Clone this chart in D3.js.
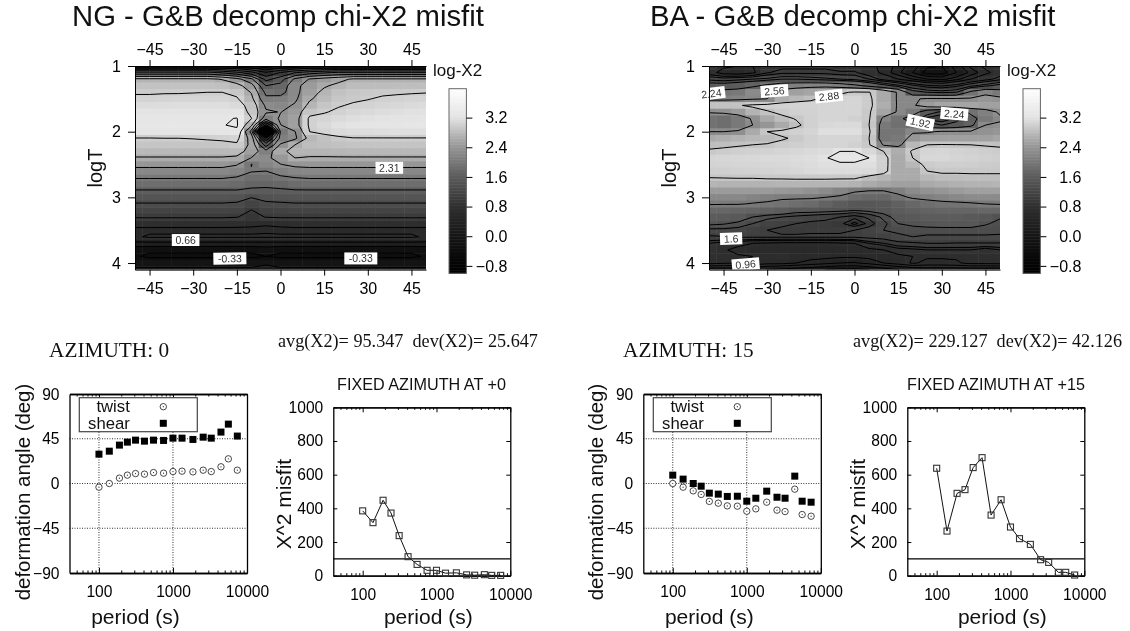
<!DOCTYPE html>
<html>
<head>
<meta charset="utf-8">
<script src="https://cdn.jsdelivr.net/npm/d3@7"></script>
<style>
  html, body { margin: 0; background: #fff; }
  svg { display: block; font-family: "Liberation Sans", Arial, sans-serif; fill: #111; filter: blur(.35px); }
  .serif { font-family: "Liberation Serif", serif; }
</style>
</head>
<body>
<svg id="chart" width="1130" height="631"></svg>
<script>
const azimuths = [-50, -45, -40, -35, -30, -25, -20, -15, -10, -5, 0, 5, 10, 15, 20, 25, 30, 35, 40, 45, 50];
const logTs = [1.0, 1.1, 1.2, 1.3, 1.4, 1.5, 1.6, 1.7, 1.8, 1.9, 2.0, 2.1, 2.2, 2.3, 2.4, 2.5, 2.6, 2.7, 2.8, 2.9, 3.0, 3.1, 3.2, 3.3, 3.4, 3.5, 3.6, 3.7, 3.8, 3.9, 4.0, 4.1];

// one row per logT, one column per azimuth
const ngGrid = [
  [.2, .2, .2, .2, .2, .2, .2, .1, 0, -.2, 0, .1, .2, .2, .2, .2, .2, .2, .2, .2, .2],
  [1.75, 1.75, 1.75, 1.75, 1.75, 1.75, 1.6, 1.4, 1.1, .7, 1, 1.3, 1.5, 1.6, 1.7, 1.7, 1.7, 1.7, 1.7, 1.7, 1.7],
  [2.7, 2.7, 2.7, 2.7, 2.7, 2.7, 2.62, 2.42, 2.05, 1.2, 1.5, 2.05, 2.33, 2.45, 2.55, 2.68, 2.68, 2.68, 2.68, 2.68, 2.68],
  [2.85, 2.85, 2.85, 2.85, 2.85, 2.85, 2.83, 2.75, 2.45, 1.65, 1.75, 2.22, 2.45, 2.6, 2.72, 2.8, 2.8, 2.8, 2.81, 2.81, 2.82],
  [2.94, 2.94, 2.95, 2.95, 2.96, 2.97, 2.97, 2.9, 2.62, 1.9, 1.85, 2.22, 2.5, 2.72, 2.85, 2.9, 2.92, 2.93, 2.94, 2.95, 2.96],
  [3.03, 3.03, 3.04, 3.05, 3.05, 3.05, 3.05, 3, 2.72, 2.05, 2.1, 2.25, 2.6, 2.78, 2.9, 2.93, 2.96, 3, 3.02, 3.04, 3.05],
  [3.12, 3.12, 3.13, 3.14, 3.14, 3.14, 3.14, 3.1, 2.85, 2.25, 2.2, 2.35, 2.72, 2.88, 2.95, 3, 3.03, 3.06, 3.08, 3.1, 3.12],
  [3.2, 3.2, 3.2, 3.21, 3.21, 3.21, 3.21, 3.2, 2.88, 2.35, 2.3, 2.45, 2.88, 2.95, 3.02, 3.07, 3.1, 3.13, 3.15, 3.17, 3.18],
  [3.27, 3.27, 3.27, 3.27, 3.27, 3.27, 3.27, 3.31, 2.98, 2.1, 2.35, 2.5, 3.02, 3.05, 3.1, 3.14, 3.17, 3.19, 3.2, 3.21, 3.22],
  [3.29, 3.29, 3.29, 3.29, 3.29, 3.29, 3.29, 3.33, 2.7, .9, 2.3, 2.5, 3.02, 3.1, 3.17, 3.2, 3.22, 3.24, 3.24, 3.25, 3.25],
  [3.22, 3.22, 3.22, 3.22, 3.22, 3.22, 3.22, 3.25, 2.2, -2.5, 2, 2.3, 2.97, 3.05, 3.1, 3.12, 3.13, 3.14, 3.15, 3.15, 3.15],
  [2.96, 2.96, 2.97, 2.97, 2.98, 3, 3.02, 3.05, 2.5, .7, 2.1, 2.25, 2.75, 2.85, 2.92, 2.96, 2.96, 2.96, 2.96, 2.96, 2.96],
  [2.88, 2.88, 2.88, 2.88, 2.88, 2.88, 2.89, 2.93, 2.55, 1.5, 2.35, 2.64, 2.8, 2.82, 2.85, 2.87, 2.87, 2.87, 2.87, 2.87, 2.87],
  [2.76, 2.76, 2.76, 2.76, 2.76, 2.76, 2.76, 2.78, 2.5, 2.1, 2.58, 2.72, 2.72, 2.72, 2.74, 2.75, 2.75, 2.75, 2.75, 2.75, 2.75],
  [2.62, 2.62, 2.62, 2.62, 2.62, 2.62, 2.62, 2.58, 2.3, 2.25, 2.42, 2.64, 2.62, 2.62, 2.62, 2.62, 2.62, 2.62, 2.62, 2.62, 2.62],
  [2.4, 2.4, 2.4, 2.4, 2.4, 2.4, 2.4, 2.33, 1.97, 2.18, 2.3, 2.38, 2.4, 2.4, 2.4, 2.4, 2.4, 2.4, 2.4, 2.4, 2.4],
  [2.2, 2.2, 2.2, 2.2, 2.2, 2.2, 2.2, 2.15, 2, 1.98, 2.1, 2.18, 2.2, 2.2, 2.2, 2.2, 2.2, 2.2, 2.2, 2.2, 2.2],
  [2, 2, 2, 2, 2, 2, 2, 1.96, 1.85, 1.85, 1.93, 1.98, 2, 2, 2, 2, 2, 2, 2, 2, 2],
  [1.85, 1.85, 1.85, 1.85, 1.85, 1.85, 1.85, 1.8, 1.72, 1.72, 1.75, 1.82, 1.85, 1.85, 1.85, 1.85, 1.85, 1.85, 1.85, 1.85, 1.85],
  [1.62, 1.62, 1.62, 1.62, 1.62, 1.62, 1.62, 1.63, 1.6, 1.58, 1.6, 1.62, 1.62, 1.62, 1.62, 1.62, 1.62, 1.62, 1.62, 1.62, 1.62],
  [1.45, 1.45, 1.45, 1.45, 1.45, 1.45, 1.45, 1.44, 1.33, 1.42, 1.44, 1.45, 1.45, 1.45, 1.45, 1.45, 1.45, 1.45, 1.45, 1.45, 1.45],
  [1.3, 1.3, 1.3, 1.3, 1.3, 1.3, 1.3, 1.28, 1.15, 1.26, 1.28, 1.3, 1.3, 1.3, 1.3, 1.3, 1.3, 1.3, 1.3, 1.3, 1.3],
  [1.16, 1.16, 1.16, 1.16, 1.16, 1.16, 1.16, 1.14, .98, 1.1, 1.13, 1.16, 1.16, 1.16, 1.16, 1.16, 1.16, 1.16, 1.16, 1.16, 1.16],
  [1.02, 1.02, 1.02, 1.02, 1.02, 1.02, 1.02, 1, .9, 1, 1.02, 1.02, 1.02, 1.02, 1.02, 1.02, 1.02, 1.02, 1.02, 1.02, 1.02],
  [.75, .75, .75, .75, .75, .75, .75, .74, .72, .68, .72, .75, .75, .75, .75, .75, .75, .75, .75, .75, .75],
  [.6, .6, .6, .6, .6, .6, .6, .6, .6, .62, .6, .6, .6, .6, .6, .6, .6, .6, .6, .6, .6],
  [.62, .7, .7, .7, .7, .7, .7, .7, .7, .7, .7, .7, .7, .7, .7, .7, .7, .7, .7, .7, .62],
  [.25, .25, .25, .25, .25, .25, .25, .25, .25, .25, .25, .25, .25, .25, .25, .25, .25, .25, .25, .25, .25],
  [-.25, -.28, -.28, -.28, -.28, -.28, -.28, -.28, -.28, -.2, -.28, -.28, -.28, -.28, -.28, -.28, -.28, -.28, -.28, -.28, -.25],
  [-.3, -.38, -.38, -.38, -.38, -.38, -.38, -.38, -.38, -.33, -.38, -.38, -.38, -.38, -.38, -.38, -.38, -.38, -.38, -.38, -.3],
  [-.1, -.1, -.1, -.1, -.1, -.1, -.1, -.1, -.1, -.05, -.1, -.1, -.1, -.1, -.1, -.1, -.1, -.1, -.1, -.1, -.1],
  [.05, .05, .05, .05, .05, .05, .05, .05, .05, .12, .05, .05, .05, .05, .05, .05, .05, .05, .05, .05, .05]
];
const baGrid = [
  [.9, .75, .7, .7, .8, .85, .85, .85, .85, .8, .8, .75, .65, .5, .3, .05, 0, .3, .6, .75, .85],
  [.8, .6, .55, .65, .9, 1, 1, 1, 1, .95, .95, .8, .65, .45, .2, -.1, -.1, .2, .45, .65, .8],
  [1.2, 1.15, 1.2, 1.25, 1.3, 1.4, 1.4, 1.35, 1.3, 1.25, 1.2, 1.05, .85, .7, .55, .4, .35, .5, .7, .85, 1],
  [1.55, 1.55, 1.6, 1.7, 1.9, 2.05, 2.1, 2.15, 2.15, 2.05, 1.9, 1.7, 1.5, 1.3, 1.1, .95, .9, 1, 1.2, 1.35, 1.5],
  [1.9, 1.95, 2, 2.25, 2.1, 2.4, 2.5, 2.55, 2.65, 2.82, 2.92, 2.9, 2.6, 2.2, 1.5, 1.4, 1.35, 1.4, 1.9, 2.15, 2],
  [2.1, 2.1, 2.15, 2.2, 2.25, 2.65, 2.75, 2.82, 2.95, 3.03, 3.05, 2.95, 2.6, 2.2, 2.2, 2.3, 2.3, 2.3, 2.3, 2.4, 2.35],
  [2.85, 2.85, 2.85, 2.95, 3, 3.02, 3.03, 3.03, 3.05, 3.05, 3.05, 2.95, 2.65, 2.2, 2.2, 2.45, 2.55, 2.55, 2.55, 2.5, 2.5],
  [2.3, 2.35, 2.45, 2.7, 2.85, 2.95, 3, 3.02, 3.05, 3.05, 3.05, 2.92, 2.55, 2.2, 2, 1.55, 1.35, 1.55, 1.9, 2.1, 2.3],
  [1.9, 1.85, 2, 2.3, 2.6, 2.8, 2.9, 3, 3.05, 3.05, 3, 2.92, 2.15, 1.9, 1.6, 1.2, 1.1, 1.3, 1.65, 2, 2.2],
  [1.9, 1.85, 2, 2.25, 2.4, 2.6, 2.82, 3, 3.08, 3.1, 3.1, 2.88, 2, 1.88, 1.85, 1.55, 1.4, 1.5, 1.7, 2.25, 2.3],
  [2.25, 2.25, 2.3, 2.6, 2.88, 2.95, 3, 3.05, 3.15, 3.15, 3.15, 2.95, 1.95, 1.95, 2.2, 2.2, 2.3, 2.3, 2.3, 2.35, 2.4],
  [2.6, 2.65, 2.7, 2.75, 2.78, 2.85, 2.92, 3, 3.05, 3.05, 3.05, 2.88, 1.95, 2, 2.4, 2.5, 2.5, 2.5, 2.5, 2.5, 2.55],
  [2.8, 2.82, 2.85, 2.88, 2.9, 2.95, 2.98, 3.02, 3.05, 3.05, 3, 2.92, 2.2, 2.1, 2.75, 2.88, 2.9, 2.89, 2.88, 2.86, 2.84],
  [2.92, 2.95, 2.98, 3, 3.02, 3.05, 3.07, 3.1, 3.12, 3.2, 3.2, 3.08, 2.88, 2.65, 2.92, 3.05, 3.06, 3.03, 3, 2.97, 2.95],
  [3.05, 3.06, 3.07, 3.08, 3.1, 3.1, 3.12, 3.14, 3.18, 3.3, 3.3, 3.2, 3, 2.6, 2.88, 3.08, 3.08, 3.05, 3.03, 3, 2.98],
  [3.03, 3.04, 3.05, 3.06, 3.07, 3.08, 3.1, 3.12, 3.15, 3.15, 3.15, 3.15, 3, 2.6, 2.75, 2.95, 2.98, 2.98, 2.97, 2.95, 2.94],
  [2.98, 2.98, 3, 3.02, 3.03, 3.05, 3.07, 3.1, 3.12, 3.12, 3.12, 3.1, 2.98, 2.62, 2.62, 2.88, 2.92, 2.92, 2.92, 2.92, 2.92],
  [2.88, 2.89, 2.9, 2.9, 2.92, 2.92, 2.93, 2.93, 2.93, 2.92, 2.92, 2.8, 2.72, 2.62, 2.6, 2.75, 2.8, 2.8, 2.82, 2.82, 2.82],
  [2.72, 2.7, 2.7, 2.7, 2.7, 2.72, 2.72, 2.72, 2.72, 2.72, 2.7, 2.62, 2.55, 2.5, 2.5, 2.6, 2.65, 2.68, 2.7, 2.7, 2.72],
  [2.45, 2.45, 2.45, 2.45, 2.45, 2.42, 2.4, 2.35, 2.25, 2.15, 2.05, 2, 2, 2.1, 2.25, 2.35, 2.4, 2.45, 2.5, 2.5, 2.5],
  [2.2, 2.2, 2.2, 2.15, 2.1, 2.05, 2.05, 2.05, 2, 1.95, 1.8, 1.75, 1.75, 1.9, 2.05, 2.1, 2.15, 2.2, 2.25, 2.25, 2.25],
  [2.03, 2.02, 2.02, 1.98, 1.95, 1.9, 1.85, 1.8, 1.7, 1.6, 1.5, 1.5, 1.55, 1.65, 1.75, 1.85, 1.9, 1.92, 1.95, 2, 2.02],
  [1.75, 1.75, 1.72, 1.7, 1.65, 1.6, 1.5, 1.5, 1.48, 1.45, 1.4, 1.45, 1.5, 1.6, 1.65, 1.7, 1.72, 1.72, 1.72, 1.75, 1.75],
  [1.6, 1.58, 1.55, 1.4, 1.3, 1.25, 1.2, 1.15, 1.1, 1.05, .95, 1.1, 1.3, 1.5, 1.55, 1.6, 1.6, 1.6, 1.55, 1.5, 1.42],
  [1.45, 1.42, 1.35, 1.25, 1.15, 1.1, 1.05, 1, 1, .95, .82, .95, 1.2, 1.4, 1.45, 1.48, 1.5, 1.5, 1.5, 1.42, 1.35],
  [1.2, 1.2, 1.18, 1.1, 1.05, 1, 1, 1.02, 1.02, 1.02, 1.05, 1.15, 1.25, 1.3, 1.32, 1.33, 1.33, 1.33, 1.33, 1.33, 1.3],
  [1.02, 1.04, 1.08, 1.08, 1.08, 1.08, 1.08, 1.08, 1.08, 1.08, 1.08, 1.1, 1.12, 1.2, 1.25, 1.22, 1.22, 1.22, 1.22, 1.22, 1.22],
  [.85, .8, .75, .7, .68, .66, .66, .66, .66, .68, .7, .85, .92, 1, 1.02, 1.05, 1.05, 1.04, 1.04, 1.04, 1.04],
  [.8, .72, .65, .6, .6, .6, .58, .58, .58, .58, .6, .66, .7, .8, .82, .85, .85, .85, .85, .79, .85],
  [.78, .75, .72, .7, .68, .7, .62, .6, .6, .58, .58, .6, .62, .65, .7, .72, .72, .72, .74, .75, .75],
  [.75, .72, .7, .65, .6, .6, .55, .5, .45, .4, .38, .45, .55, .62, .72, .66, .66, .68, .74, .74, .75],
  [.3, .3, .3, .25, .2, .15, .1, .05, 0, -.05, -.05, 0, .1, .2, .25, .3, .3, .3, .3, .3, .3]
];

const ngLevels = [-2.31, -1.98, -1.65, -1.32, -.99, -.66, -.33, 0, .33, .66, .99, 1.32, 1.65, 1.98, 2.31, 2.64, 2.97, 3.3];
const baLevelsTop = [0, .2, .4, .55, .7, .92, 1.05, 1.25, 1.4, 1.8, 2.25, 2.88, 3.2];
const baLevelsBottom = [0, .2, .4, .55, .7, .85, .92, 1.05, 1.25, 1.4, 2, 2.88, 3.2];

const ngLabels = [
  { text: "2.31", az: 37.4, logT: 2.55, angle: 0 },
  { text: "0.66", az: -32.6, logT: 3.65, angle: 0 },
  { text: "-0.33", az: -17.4, logT: 3.93, angle: -1 },
  { text: "-0.33", az: 27.6, logT: 3.93, angle: 0 }
];
const baLabels = [
  { text: "2.24", az: -49.2, logT: 1.42, angle: -7 },
  { text: "2.56", az: -27.5, logT: 1.38, angle: -4 },
  { text: "2.88", az: -8.8, logT: 1.46, angle: -6 },
  { text: "1.92", az: 22.6, logT: 1.86, angle: 12 },
  { text: "2.24", az: 34.3, logT: 1.73, angle: 5 },
  { text: "1.6", az: -42.4, logT: 3.63, angle: -2 },
  { text: "0.96", az: -37.4, logT: 4.02, angle: -5 }
];

const azimuthTicks = [-45, -30, -15, 0, 15, 30, 45];
const logTTicks = [1, 2, 3, 4];
const colorTicks = [3.2, 2.4, 1.6, 0.8, 0.0, -0.8];
const grayValues = [-1, 0, .8, 1.6, 2.4, 3.2, 4];
const grayLevels = ["#000", "#161616", "#303030", "#5c5c5c", "#969696", "#e4e4e4", "#fff"];

const periods = [100, 138, 189, 242, 312, 412, 546, 746, 1000, 1325, 1860, 2560, 3290, 4450, 5600, 7400];
const shear0 = [29.5, 32.5, 38.6, 41.6, 43.6, 42.6, 43.6, 43.3, 45.6, 45.6, 44.3, 46.6, 45.6, 51.7, 59.7, 47.7];
const twist0 = [-3.7, 0, 5.4, 8.4, 10, 9.4, 11, 10.4, 12, 12.4, 11.7, 13.4, 12, 16.8, 24.8, 13.4];
const shear15 = [8.4, 4.4, 0, -2.7, -9.7, -10.7, -13, -12.8, -17.8, -14.8, -7.7, -13.8, -14.8, 7.4, -17.8, -18.8];
const twist15 = [0, -3.7, -7.4, -11, -18, -19.8, -22.5, -22.8, -27.9, -25.5, -18.8, -26.8, -28.2, -5.7, -31.2, -32.9];
const misfit0 = [385, 315, 448, 372, 238, 113, 67, 32, 32, 15, 17, 5, 3, 6, 2, 2];
const misfit15 = [638, 265, 489, 511, 642, 701, 360, 451, 289, 220, 186, 95, 79, 20, 20, 4];
const misfitLimit = 100;

const periodTicks = [100, 1000, 10000];
const periodMinorTicks = [50, 60, 70, 80, 90, 200, 300, 400, 500, 600, 700, 800, 900, 2000, 3000, 4000, 5000, 6000, 7000, 8000, 9000];
const angleTicks = [-90, -45, 0, 45, 90];
const misfitTicks = [0, 200, 400, 600, 800, 1000];

const svg = d3.select("#chart");
const gray = d3.scaleLinear().domain(grayValues).range(grayLevels).clamp(true);

function text(parent, x, y, str, size, anchor, rotate) {
  const t = parent.append("text")
    .attr("x", x).attr("y", y)
    .attr("font-size", size)
    .attr("text-anchor", anchor || "start")
    .text(str);
  if (rotate) t.attr("transform", `rotate(${rotate},${x},${y})`);
  return t;
}

function drawHeatmap(id, grid, left, title, titleX, levelSets, labels) {
  const x = d3.scaleLinear().domain([-50, 50]).range([left, left + 291]);
  const y = d3.scaleLinear().domain([1, 4.1]).range([66, 269.6]);
  const g = svg.append("g");

  text(g, titleX, 26, title, 29.3);

  g.append("clipPath").attr("id", id).append("rect")
    .attr("x", x(-50)).attr("y", y(1))
    .attr("width", x(50) - x(-50)).attr("height", y(4.1) - y(1));

  const plot = g.append("g").attr("clip-path", `url(#${id})`);
  const cellW = x(5) - x(0), cellH = y(1.1) - y(1);
  logTs.forEach((t, i) => {
    plot.selectAll(null)
      .data(grid[i])
      .enter()
      .append("rect")
      .attr("x", (d, j) => x(azimuths[j]) - cellW / 2)
      .attr("y", y(t) - cellH / 2)
      .attr("width", cellW + .5)
      .attr("height", cellH + .5)
      .attr("fill", d => gray(d));
  });

  // d3.contours puts node i at i + 0.5
  const contours = d3.contours().size([azimuths.length, logTs.length]);
  const flat = grid.flat();
  const path = d3.geoPath(d3.geoTransform({
    point(c, r) {
      this.stream.point(x(-50 + (c - .5) * 5), y(1 + (r - .5) * .1));
    }
  }));
  levelSets.forEach((set, k) => {
    g.append("clipPath").attr("id", `${id}-${k}`).append("rect")
      .attr("x", x(-50)).attr("width", x(50) - x(-50))
      .attr("y", y(set.from)).attr("height", y(set.to) - y(set.from));
    plot.append("g").attr("clip-path", `url(#${id}-${k})`)
      .selectAll("path")
      .data(set.levels.map(l => contours.contour(flat, l)))
      .enter()
      .append("path")
      .attr("d", path)
      .attr("fill", "none")
      .attr("stroke", "#000")
      .attr("stroke-width", 1);
  });

  const label = g.selectAll(".label")
    .data(labels)
    .enter()
    .append("g")
    .attr("class", "label")
    .attr("transform", d => `translate(${x(d.az)},${y(d.logT)}) rotate(${d.angle})`);
  label.append("rect")
    .attr("x", d => -(d.text.length * 5.4 + 6) / 2).attr("y", -6)
    .attr("width", d => d.text.length * 5.4 + 6).attr("height", 12)
    .attr("fill", "#fff");
  label.append("text")
    .attr("y", 3.8)
    .attr("text-anchor", "middle")
    .attr("font-size", 10.5)
    .attr("fill", "#333")
    .text(d => d.text);

  const axisFont = ax => ax.attr("font-size", 16).attr("font-family", "Liberation Sans");
  g.append("g").attr("transform", `translate(0,${y(4.1)})`)
    .call(d3.axisBottom(x).tickValues(azimuthTicks).tickSize(6).tickSizeOuter(0).tickPadding(7))
    .call(axisFont);
  g.append("g").attr("transform", `translate(0,${y(1)})`)
    .call(d3.axisTop(x).tickValues(azimuthTicks).tickSize(6).tickSizeOuter(0).tickPadding(5))
    .call(axisFont);
  g.append("g").attr("transform", `translate(${x(-50)},0)`)
    .call(d3.axisLeft(y).tickValues(logTTicks).tickFormat(d3.format("d")).tickSize(7).tickSizeOuter(0).tickPadding(7))
    .call(axisFont);

  text(g, left - 40, 168, "logT", 20, "middle", -90).attr("dy", "0.35em");
  text(g, left + 298, 76, "log-X2", 17);

  const barLeft = left + 314, barWidth = 17.4;
  const c = d3.scaleLinear().domain([-1, 3.98]).range([273.3, 88.7]);
  g.selectAll(".step")
    .data(d3.range(-1, 3.98, .04))
    .enter()
    .append("rect")
    .attr("x", barLeft).attr("width", barWidth)
    .attr("y", d => c(d + .04)).attr("height", c(0) - c(.04) + .5)
    .attr("fill", d => gray(d));
  g.append("rect")
    .attr("x", barLeft).attr("y", c(3.98)).attr("width", barWidth).attr("height", c(-1) - c(3.98))
    .attr("fill", "none").attr("stroke", "#666");
  g.append("g").attr("transform", `translate(${barLeft + barWidth},0)`)
    .call(d3.axisRight(c).tickValues(colorTicks).tickFormat(d3.format(".1f")).tickSize(6).tickPadding(0))
    .call(axisFont)
    .call(a => a.select(".domain").remove())
    .call(a => a.selectAll("text").attr("text-anchor", "end").attr("x", 41));
}

function periodAxes(g, x, y, top, bottom) {
  g.append("g").attr("transform", `translate(0,${bottom})`)
    .call(d3.axisBottom(x).tickValues(periodTicks).tickFormat(d3.format("d")).tickSize(-5).tickSizeOuter(0).tickPadding(13))
    .call(a => a.attr("font-size", 15.6).attr("font-family", "Liberation Sans"));
  g.append("g").attr("transform", `translate(0,${bottom})`)
    .call(d3.axisBottom(x).tickValues(periodMinorTicks).tickFormat("").tickSize(-2.5).tickSizeOuter(0));
  g.append("g").attr("transform", `translate(0,${top})`)
    .call(d3.axisTop(x).tickValues(periodTicks).tickFormat("").tickSize(-5).tickSizeOuter(0));
  g.append("g").attr("transform", `translate(0,${top})`)
    .call(d3.axisTop(x).tickValues(periodMinorTicks).tickFormat("").tickSize(-2.5).tickSizeOuter(0));
  g.selectAll(".domain").attr("stroke-width", 1.3);
}

function drawAngles(left, shear, twist, legendX) {
  const x = d3.scaleLog().domain([40, 10000]).range([left, left + 177.5]);
  const y = d3.scaleLinear().domain([-90, 90]).range([573, 394]);
  const g = svg.append("g");

  // dotted grid
  g.selectAll(".gx").data([100, 1000]).enter().append("line")
    .attr("x1", d => x(d)).attr("x2", d => x(d)).attr("y1", y(-90)).attr("y2", y(90))
    .attr("stroke", "#333").attr("stroke-dasharray", "1,1.5");
  g.selectAll(".gy").data([-45, 0, 45]).enter().append("line")
    .attr("x1", x(40)).attr("x2", x(10000)).attr("y1", d => y(d)).attr("y2", d => y(d))
    .attr("stroke", "#333").attr("stroke-dasharray", "1,1.5");

  periodAxes(g, x, y, 394, 573);
  g.append("g").attr("transform", `translate(${x(40)},0)`)
    .call(d3.axisLeft(y).tickValues(angleTicks).tickSize(0).tickSizeOuter(0).tickPadding(10))
    .call(a => a.attr("font-size", 15.6).attr("font-family", "Liberation Sans"))
    .call(a => a.select(".domain").attr("stroke-width", 1.3));
  g.append("g").attr("transform", `translate(${x(10000)},0)`)
    .call(d3.axisRight(y).tickValues(angleTicks).tickFormat("").tickSize(0).tickSizeOuter(0))
    .call(a => a.select(".domain").attr("stroke-width", 1.3));

  // legend
  g.append("rect").attr("x", legendX).attr("y", 397.7).attr("width", 118).attr("height", 34)
    .attr("fill", "#fff").attr("stroke", "#444").attr("stroke-width", 1.2);
  text(g, legendX + 50.5, 412, "twist", 16.7, "end");
  text(g, legendX + 50.5, 429, "shear", 16.7, "end");
  circle(g, legendX + 84, 406.7);
  g.append("rect").attr("x", legendX + 80.5).attr("y", 419.8).attr("width", 7).attr("height", 7).attr("fill", "#000");

  periods.forEach((p, i) => circle(g, x(p), y(twist[i])));
  g.selectAll(".shear")
    .data(shear)
    .enter()
    .append("rect")
    .attr("x", (d, i) => x(periods[i]) - 3.5)
    .attr("y", d => y(d) - 3.5)
    .attr("width", 7).attr("height", 7)
    .attr("fill", "#000");

  text(g, left - 47, 492, "deformation angle (deg)", 20.4, "middle", -90).attr("dy", "0.35em");
  text(g, left + 66, 624, "period (s)", 21, "middle");
}

function circle(g, cx, cy) {
  g.append("circle").attr("cx", cx).attr("cy", cy).attr("r", 3.2)
    .attr("fill", "#fff").attr("stroke", "#333").attr("stroke-width", .9);
  g.append("circle").attr("cx", cx).attr("cy", cy).attr("r", .6).attr("fill", "#222");
}

function drawMisfit(left, misfit, title, titleX) {
  const x = d3.scaleLog().domain([40, 10000]).range([left, left + 177]);
  const y = d3.scaleLinear().domain([0, 1000]).range([575.7, 407.3]);
  const g = svg.append("g");

  periodAxes(g, x, y, 407.3, 575.7);
  g.append("g").attr("transform", `translate(${x(40)},0)`)
    .call(d3.axisLeft(y).tickValues(misfitTicks).tickFormat(d3.format("d")).tickSize(-4).tickSizeOuter(0).tickPadding(10))
    .call(a => a.attr("font-size", 15.6).attr("font-family", "Liberation Sans"))
    .call(a => a.select(".domain").attr("stroke-width", 1.3));
  g.append("g").attr("transform", `translate(${x(10000)},0)`)
    .call(d3.axisRight(y).tickValues(misfitTicks).tickFormat("").tickSize(-4).tickSizeOuter(0))
    .call(a => a.select(".domain").attr("stroke-width", 1.3));

  g.append("line")
    .attr("x1", x(40)).attr("x2", x(10000)).attr("y1", y(misfitLimit)).attr("y2", y(misfitLimit))
    .attr("stroke", "#000").attr("stroke-width", 1.1);

  const line = d3.line().x((d, i) => x(periods[i])).y(d => y(d));
  g.append("path").datum(misfit).attr("d", line).attr("fill", "none").attr("stroke", "#111").attr("stroke-width", 1);
  g.selectAll(".pt")
    .data(misfit)
    .enter()
    .append("rect")
    .attr("x", (d, i) => x(periods[i]) - 3)
    .attr("y", d => y(d) - 3)
    .attr("width", 6).attr("height", 6)
    .attr("fill", "none").attr("stroke", "#333").attr("stroke-width", 1.1);

  text(g, titleX, 390, title, 16.2);
  text(g, left - 50, 504, "X^2 misfit", 21, "middle", -90).attr("dy", "0.35em");
  text(g, left + 95, 624, "period (s)", 21, "middle");
}

drawHeatmap("ng", ngGrid, 135, "NG - G&B decomp chi-X2 misfit", 72,
  [{ levels: ngLevels, from: 1, to: 4.1 }], ngLabels);
drawHeatmap("ba", baGrid, 709, "BA - G&B decomp chi-X2 misfit", 650,
  [{ levels: baLevelsTop, from: 1, to: 2.78 }, { levels: baLevelsBottom, from: 2.78, to: 4.1 }], baLabels);

drawAngles(69.5, shear0, twist0, 79.3);
drawAngles(643.3, shear15, twist15, 653.3);
drawMisfit(333.3, misfit0, "FIXED AZIMUTH AT +0", 337);
drawMisfit(907.3, misfit15, "FIXED AZIMUTH AT +15", 907);

text(svg, 49, 357, "AZIMUTH: 0", 21.3).attr("class", "serif");
text(svg, 623, 357, "AZIMUTH: 15", 21.3).attr("class", "serif");
text(svg, 278, 347, "avg(X2)= 95.347  dev(X2)= 25.647", 18.2).attr("class", "serif").attr("xml:space", "preserve");
text(svg, 853, 347, "avg(X2)= 229.127  dev(X2)= 42.126", 18.2).attr("class", "serif").attr("xml:space", "preserve");
</script>
</body>
</html>
